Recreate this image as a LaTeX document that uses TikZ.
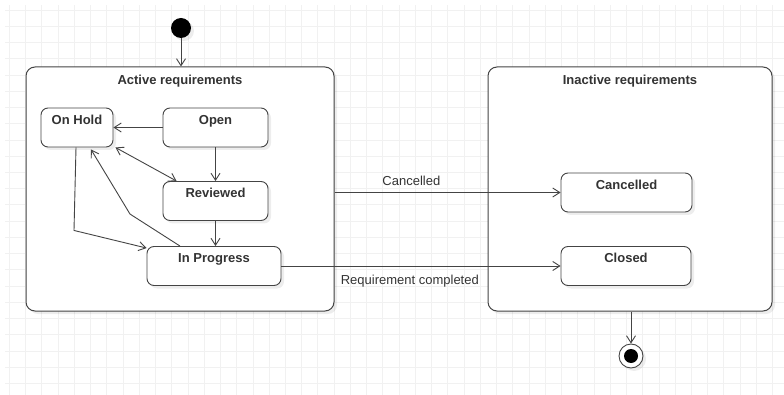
\documentclass[tikz,border=0pt]{standalone}
\usepackage{fontspec}
\setmainfont{Liberation Sans}
\usetikzlibrary{arrows.meta,shadows}
\definecolor{linegray}{HTML}{444444}
\definecolor{textgray}{HTML}{333333}
\definecolor{gridgray}{HTML}{F1F1F1}

\begin{document}
\begin{tikzpicture}[x=1pt,y=-1pt, >={Straight Barb[length=7pt,width=9pt]},
    every node/.style={font=\fontsize{13}{15}\selectfont, text=textgray},
    shade/.style={drop shadow={shadow xshift=3pt,shadow yshift=-3pt,fill=black,opacity=0.07}},
    region/.style={draw=linegray, line width=1pt, rounded corners=9pt, fill=white, shade},
    title/.style={anchor=north, yshift=-8pt, inner sep=0pt, font=\fontsize{13}{15}\selectfont\bfseries},
    state/.style={draw=linegray, line width=0.9pt, rounded corners=7pt, fill=white, shade,
        font=\fontsize{13}{15}\selectfont\bfseries, text height=13.5pt, text depth=19.5pt,
        inner ysep=3pt, inner xsep=0pt},
    trans/.style={draw=linegray, line width=0.9pt, ->}]

    \useasboundingbox (0,0) rectangle (784,395);
    % grid
    \foreach \i in {0,...,47} \draw[gridgray, line width=0.8pt] (9.3+16.24*\i,5) -- (9.3+16.24*\i,395);
    \foreach \i in {0,...,23} \draw[gridgray, line width=0.8pt] (5,10+16.24*\i) -- (784,10+16.24*\i);

    \node[region, minimum width=308pt, minimum height=244pt,
        label={[title]north:Active requirements}] (active) at (180,189) {};
    \node[region, minimum width=284pt, minimum height=244pt,
        label={[title]north:Inactive requirements}] (inactive) at (630,189) {};

    \node[circle, fill=black, minimum size=20pt, inner sep=0pt, shade] (init) at (181,28) {};
    \node[circle, draw=linegray, line width=0.9pt, fill=white, minimum size=24pt, inner sep=0pt, shade,
        path picture={\fill[black] (path picture bounding box.center) circle (7pt);}] (final) at (631,356) {};

    \node[state, minimum width=72pt] (onhold) at (77,127.5) {On Hold};
    \node[state, minimum width=105pt] (open) at (215.5,127.5) {Open};
    \node[state, minimum width=105pt] (reviewed) at (215.5,201) {Reviewed};
    \node[state, minimum width=134pt] (inprogress) at (214,266) {In Progress};
    \node[state, minimum width=131pt] (cancelled) at (626.5,192.5) {Cancelled};
    \node[state, minimum width=130pt] (closed) at (626,266) {Closed};

    \draw[trans] (init) -- (init |- active.north);
    \draw[trans] (open) -- (onhold);
    \draw[trans] (open) -- (reviewed);
    \draw[trans, <->] ([xshift=2pt]onhold.south east) -- ([xshift=14pt]reviewed.north west);
    \draw[trans] (reviewed) -- (reviewed |- inprogress.north);
    \draw[trans] ([xshift=-1pt]onhold.south) -- ++(-2,83) -- ([yshift=-2pt]inprogress.north west);
    \draw[trans] ([xshift=-34pt]inprogress.north) -- ++(-50,-32) -- ([xshift=14pt,yshift=-2pt]onhold.south);
    \draw[trans] (active.east |- cancelled.west) -- node[pos=0.34, above, inner sep=2pt, yshift=4pt] {Cancelled} (cancelled.west);
    \draw[trans] (inprogress.east) -- node[pos=0.46, below, inner sep=3pt, yshift=-6pt] {Requirement completed} (closed.west);
    \draw[trans] (inactive.south -| final) -- (final);

\end{tikzpicture}
\end{document}
